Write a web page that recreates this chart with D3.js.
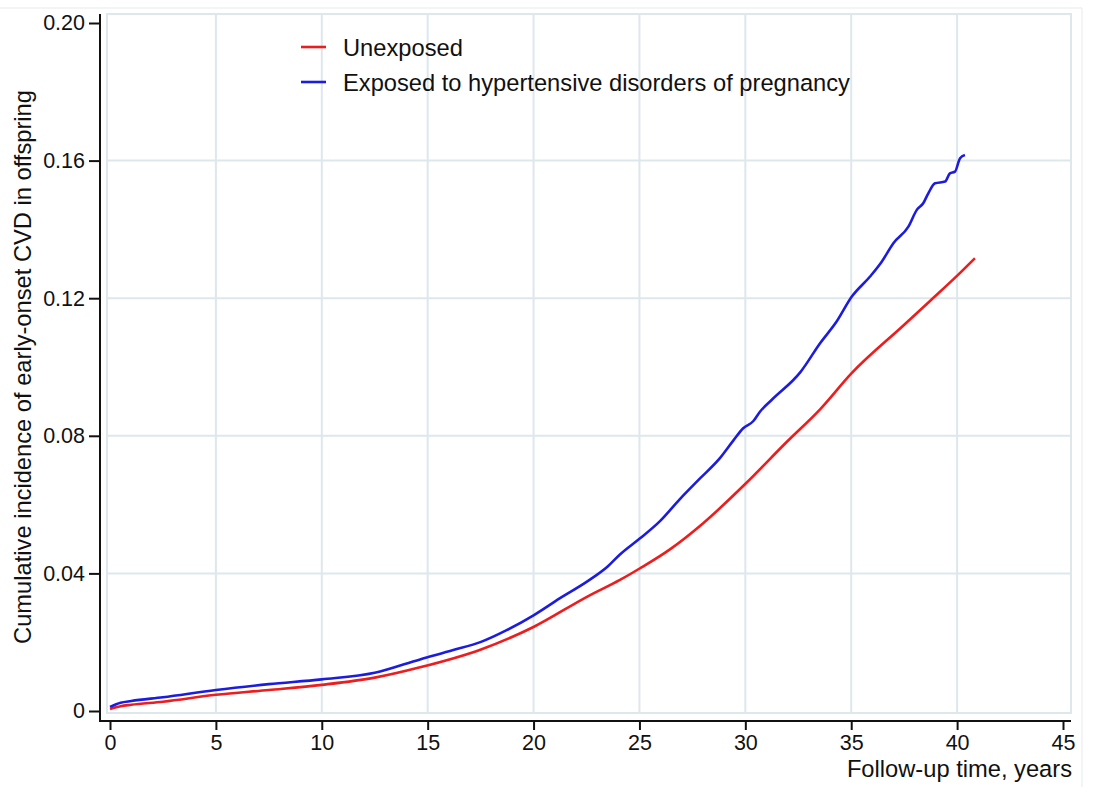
<!DOCTYPE html>
<html>
<head>
<meta charset="utf-8">
<script src="https://cdn.jsdelivr.net/npm/d3@7"></script>
<style>
  html, body { margin: 0; padding: 0; background: #ffffff; }
  svg { display: block; font-family: "Liberation Sans", Arial, sans-serif; }
</style>
</head>
<body>
<svg id="chart" width="1093" height="787"></svg>
<script>
// ---- Data ----
const seriesNames = ["Unexposed", "Exposed to hypertensive disorders of pregnancy"];
const seriesColors = ["#ee1c1c", "#1c1ce0"];

const unexposedTime = [0, 0.5, 1, 2.5, 5, 7.5, 10, 12.5, 14.64, 17.52, 20.02, 22.52, 24.08, 25.03, 26.44, 28.01, 30.03, 31.95, 33.53, 35.02, 37.49, 38.72, 39.98, 40.84];
const unexposedValue = [0.0006, 0.0014, 0.0018, 0.0027, 0.0047, 0.0061, 0.0076, 0.0097, 0.0127, 0.0179, 0.0245, 0.0332, 0.0381, 0.0415, 0.0470, 0.0546, 0.0662, 0.0782, 0.0877, 0.0982, 0.1122, 0.1192, 0.1264, 0.1316];

const exposedTime = [0, 0.5, 1, 2.5, 5, 7.5, 10, 12.5, 14.64, 16.21, 17.52, 18.73, 20.02, 21.25, 22.52, 23.5, 24.08, 25.03, 25.97, 26.91, 27.86, 28.80, 29.43, 29.90, 30.38, 30.69, 31.24, 32.6, 33.53, 34.31, 35.02, 35.89, 36.44, 36.99, 37.70, 38.09, 38.40, 38.64, 38.96, 39.43, 39.66, 39.90, 40.14, 40.37];
const exposedValue = [0.0012, 0.0024, 0.0029, 0.0040, 0.0061, 0.0078, 0.0092, 0.0111, 0.0150, 0.0177, 0.0201, 0.0235, 0.0279, 0.0328, 0.0376, 0.0420, 0.0455, 0.0502, 0.0552, 0.0616, 0.0676, 0.0735, 0.0786, 0.0822, 0.0843, 0.0870, 0.0904, 0.0985, 0.1069, 0.1132, 0.1204, 0.1263, 0.1306, 0.1360, 0.1408, 0.1456, 0.1476, 0.1505, 0.1534, 0.1539, 0.1563, 0.1568, 0.1607, 0.1616];

const xTicks = [0, 5, 10, 15, 20, 25, 30, 35, 40, 45];
const xTickLabels = ["0", "5", "10", "15", "20", "25", "30", "35", "40", "45"];
const yTicks = [0, 0.04, 0.08, 0.12, 0.16, 0.20];
const yTickLabels = ["0", "0.04", "0.08", "0.12", "0.16", "0.20"];
const xTitle = "Follow-up time, years";
const yTitle = "Cumulative incidence of early-onset CVD in offspring";

// ---- Layout ----
const svg = d3.select("#chart");
const x = d3.scaleLinear().domain([0, 45]).range([110, 1063]);
const y = d3.scaleLinear().domain([0, 0.20]).range([711, 23]);
const gridColor = "#dde7ec";

// faint outer frame
svg.append("line").attr("x1", 0).attr("x2", 1082).attr("y1", 8).attr("y2", 8)
  .attr("stroke", "#eef1f3").attr("stroke-width", 1.5);
svg.append("line").attr("x1", 1082).attr("x2", 1082).attr("y1", 8).attr("y2", 787)
  .attr("stroke", "#eef1f3").attr("stroke-width", 1.5);

// plot region outline
svg.append("rect").attr("x", 107).attr("y", 14).attr("width", 964).attr("height", 699)
  .attr("fill", "#ffffff").attr("stroke", gridColor).attr("stroke-width", 2);

// gridlines
svg.append("g").selectAll("line").data(xTicks.filter(d => d > 0 && d < 45)).join("line")
  .attr("x1", d => x(d)).attr("x2", d => x(d)).attr("y1", 14).attr("y2", 713)
  .attr("stroke", gridColor).attr("stroke-width", 2);
svg.append("g").selectAll("line").data(yTicks.filter(d => d > 0 && d < 0.2)).join("line")
  .attr("x1", 107).attr("x2", 1071).attr("y1", d => y(d)).attr("y2", d => y(d))
  .attr("stroke", gridColor).attr("stroke-width", 2);

// curves
const line = d3.line().x(d => x(d[0])).y(d => y(d[1])).curve(d3.curveMonotoneX);
const unexposed = unexposedTime.map((t, i) => [t, unexposedValue[i]]);
const exposed = exposedTime.map((t, i) => [t, exposedValue[i]]);
svg.append("path").datum(unexposed).attr("d", line).attr("fill", "none")
  .attr("stroke", seriesColors[0]).attr("stroke-width", 2.6).attr("stroke-linejoin", "round");
svg.append("path").datum(exposed).attr("d", line).attr("fill", "none")
  .attr("stroke", seriesColors[1]).attr("stroke-width", 2.6).attr("stroke-linejoin", "round");

// axes
const xAxis = d3.axisBottom(x).tickValues(xTicks).tickFormat((d, i) => xTickLabels[i])
  .tickSizeInner(9).tickSizeOuter(0).tickPadding(5);
const gx = svg.append("g").attr("transform", "translate(0,721)").call(xAxis);
gx.select(".domain").attr("d", "M100,0H1071").attr("stroke", "#111").attr("stroke-width", 2);
gx.selectAll(".tick line").attr("stroke", "#111").attr("stroke-width", 2);
gx.selectAll(".tick text").attr("font-size", "21.5px").attr("fill", "#111")
  .attr("font-family", "Liberation Sans, Arial, sans-serif");

const yAxis = d3.axisLeft(y).tickValues(yTicks).tickFormat((d, i) => yTickLabels[i])
  .tickSizeInner(11).tickSizeOuter(0).tickPadding(4);
const gy = svg.append("g").attr("transform", "translate(100,0)").call(yAxis);
gy.select(".domain").attr("d", "M0,14V722").attr("stroke", "#111").attr("stroke-width", 2);
gy.selectAll(".tick line").attr("stroke", "#111").attr("stroke-width", 2);
gy.selectAll(".tick text").attr("font-size", "21.5px").attr("fill", "#111")
  .attr("font-family", "Liberation Sans, Arial, sans-serif");

// axis titles
svg.append("text").attr("x", 1072).attr("y", 777).attr("text-anchor", "end")
  .attr("font-size", "23.7px").attr("fill", "#111").text(xTitle);
svg.append("text").attr("transform", "translate(31,367) rotate(-90)").attr("text-anchor", "middle")
  .attr("font-size", "23.7px").attr("fill", "#111").text(yTitle);

// legend
const legendY = [47, 82];
const lg = svg.append("g");
seriesNames.forEach((name, i) => {
  lg.append("line").attr("x1", 301).attr("x2", 326).attr("y1", legendY[i]).attr("y2", legendY[i])
    .attr("stroke", seriesColors[i]).attr("stroke-width", 2.6);
  lg.append("text").attr("x", 343).attr("y", legendY[i] + 8.5)
    .attr("font-size", "23.7px").attr("fill", "#111").text(name);
});
</script>
</body>
</html>
